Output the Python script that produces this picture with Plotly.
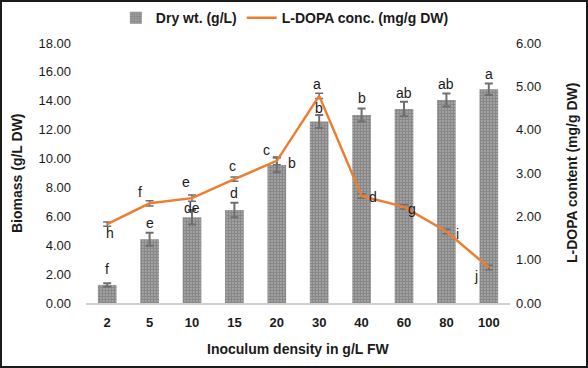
import plotly.graph_objects as go

categories = ["2", "5", "10", "15", "20", "30", "40", "60", "80", "100"]
dry_wt = [1.25, 4.41, 5.93, 6.44, 9.56, 12.56, 13.02, 13.43, 14.06, 14.80]
dry_wt_err = [0.12, 0.45, 0.50, 0.50, 0.50, 0.45, 0.45, 0.50, 0.45, 0.40]
ldopa = [1.82, 2.30, 2.42, 2.86, 3.28, 4.78, 2.47, 2.22, 1.65, 0.82]
ldopa_err = [0.05, 0.06, 0.07, 0.05, 0.09, 0.06, 0.05, 0.05, 0.05, 0.05]
bar_letters = ["f", "e", "de", "d", "b", "b", "b", "ab", "ab", "a"]
line_letters = ["h", "f", "e", "c", "c", "a", "d", "g", "i", "j"]
left_ticks = [0, 2, 4, 6, 8, 10, 12, 14, 16, 18]
right_ticks = [0, 1, 2, 3, 4, 5, 6]

FONT = "Liberation Sans, Arial, sans-serif"
ORANGE = "#ED7D31"
GREY = "#6f6f6f"
TXT = "#1a1a1a"

fig = go.Figure()
fig.add_trace(go.Bar(
    x=categories, y=dry_wt, name="<b>Dry wt. (g/L)</b>",
    marker=dict(color="#d0d0d0", line=dict(width=0),
                pattern=dict(shape=".", size=3, solidity=0.8, fgcolor="#3c3c3c", bgcolor="#d4d4d4")),
    error_y=dict(type="data", array=dry_wt_err, color=GREY, thickness=2, width=4),
    yaxis="y",
))
fig.add_trace(go.Scatter(
    x=categories, y=ldopa, name="<b>L-DOPA conc. (mg/g DW)</b>", mode="lines",
    line=dict(color=ORANGE, width=2.5),
    error_y=dict(type="data", array=ldopa_err, color=GREY, thickness=1.5, width=4),
    yaxis="y2",
))

bar_shift = [(0, 14), (0, 10), (0, 2), (0, 10), (15, -5), (0, 7), (0, 10), (0, 9), (0, 9), (0, 9)]
for i, (v, e, t, (dx, dy)) in enumerate(zip(dry_wt, dry_wt_err, bar_letters, bar_shift)):
    fig.add_annotation(x=i, y=v + e, xref="x", yref="y", text=t, showarrow=False,
                       xshift=dx, yshift=dy, yanchor="middle",
                       font=dict(family=FONT, size=14, color=TXT))

line_shift = [(3, -9), (-10, 11), (-6, 16), (-2, 13), (-10, 11), (-2, 12), (11, -1), (8, -2), (11, -2), (-13, -9)]
for i, (v, t, (dx, dy)) in enumerate(zip(ldopa, line_letters, line_shift)):
    fig.add_annotation(x=i, y=v, xref="x", yref="y2", text=t, showarrow=False,
                       xshift=dx, yshift=dy, yanchor="middle",
                       font=dict(family=FONT, size=14, color=TXT))

# axis titles
fig.add_annotation(x=0, y=0.5, xref="paper", yref="paper", xshift=-69, xanchor="center", yanchor="middle",
                   text="<b>Biomass (g/L DW)</b>", textangle=-90, showarrow=False,
                   font=dict(family=FONT, size=14, color=TXT))
fig.add_annotation(x=1, y=0.5, xref="paper", yref="paper", xshift=62, xanchor="center", yanchor="middle",
                   text="<b>L-DOPA content (mg/g DW)</b>", textangle=-90, showarrow=False,
                   font=dict(family=FONT, size=14, color=TXT))
fig.add_annotation(x=0.5, y=0, xref="paper", yref="paper", yshift=-46, xanchor="center", yanchor="middle",
                   text="<b>Inoculum density in g/L FW</b>", showarrow=False,
                   font=dict(family=FONT, size=14, color=TXT))

fig.update_layout(
    width=588, height=368,
    margin=dict(l=86, r=78, t=43, b=65, autoexpand=False),
    paper_bgcolor="white", plot_bgcolor="white",
    font=dict(family=FONT, size=13, color=TXT),
    bargap=0.56,
    showlegend=True,
    legend=dict(orientation="h", x=0.469, xanchor="center", y=0.951, yanchor="middle",
                yref="container", font=dict(family=FONT, size=14, color=TXT),
                traceorder="normal"),
    xaxis=dict(type="category", range=[-0.5, 9.5], showline=True, linecolor="#d0d0d0", linewidth=2,
               ticks="", ticklabelstandoff=6, automargin=False,
               tickfont=dict(family=FONT, size=13, color=TXT, weight="bold")),
    yaxis=dict(range=[0, 18], tickvals=left_ticks, ticktext=[f"{v:.2f}" for v in left_ticks],
               showgrid=False, zeroline=False, showline=False, ticks="", automargin=False,
               ticklabelstandoff=14),
    yaxis2=dict(range=[0, 6], overlaying="y", side="right", tickvals=right_ticks,
                ticktext=[f"{v:.2f}" for v in right_ticks], automargin=False,
                showgrid=False, zeroline=False, showline=False, ticks="", ticklabelstandoff=5),
    shapes=[dict(type="rect", xref="paper", yref="paper", x0=-0.2005, x1=1.1816, y0=-0.246, y1=1.1615,
                 line=dict(color="#1a1a1a", width=2))],
)
fig.write_html("out.html", config={"displayModeBar": False},
               post_script="document.body.style.margin='0';document.body.style.overflow='hidden';")
